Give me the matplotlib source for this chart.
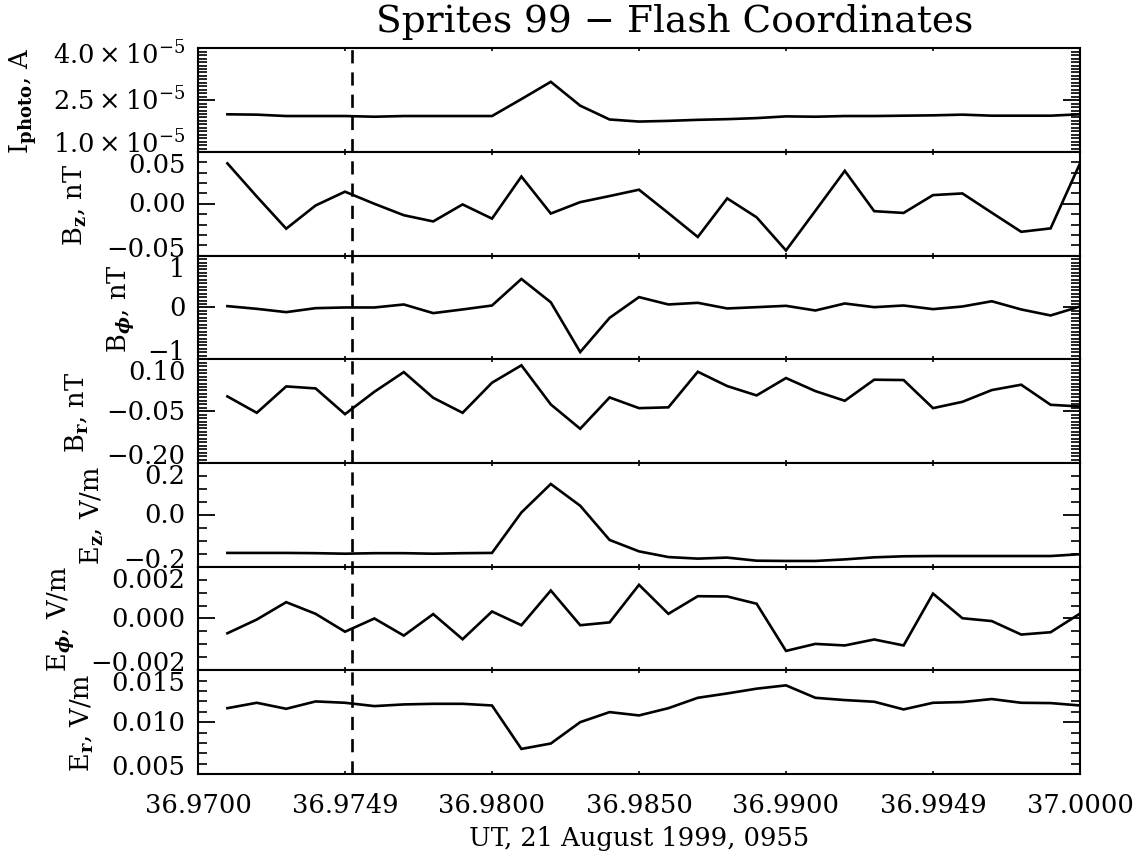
import numpy as np
import matplotlib
matplotlib.use("Agg")
import matplotlib.pyplot as plt
from matplotlib.ticker import FixedLocator, FixedFormatter, AutoMinorLocator
from matplotlib.transforms import blended_transform_factory, ScaledTranslation

plt.rcParams['font.family'] = ['DejaVu Serif']
plt.rcParams['mathtext.fontset'] = 'dejavuserif'
plt.rcParams['lines.scale_dashes'] = False

# ---------------- data ----------------
ut = [36.971, 36.972, 36.973, 36.974, 36.975, 36.976, 36.977, 36.978, 36.979, 36.980,
      36.981, 36.982, 36.983, 36.984, 36.985, 36.986, 36.987, 36.988, 36.989, 36.990,
      36.991, 36.992, 36.993, 36.994, 36.995, 36.996, 36.997, 36.998, 36.999, 37.000]

i_photo = [2.09e-5, 2.08e-5, 2.04e-5, 2.04e-5, 2.04e-5, 2.02e-5, 2.04e-5, 2.04e-5, 2.04e-5, 2.04e-5,
           2.53e-5, 3.03e-5, 2.34e-5, 1.94e-5, 1.88e-5, 1.90e-5, 1.93e-5, 1.95e-5, 1.98e-5, 2.03e-5,
           2.02e-5, 2.04e-5, 2.04e-5, 2.05e-5, 2.06e-5, 2.08e-5, 2.05e-5, 2.05e-5, 2.05e-5, 2.09e-5]

b_z = [0.039, 0.007, -0.024, -0.0016, 0.0117, 0.0, -0.011, -0.017, -0.0006, -0.0143,
       0.0263, -0.0094, 0.0016, 0.0075, 0.0136, -0.009, -0.032, 0.0052, -0.013, -0.045,
       -0.0067, 0.0318, -0.0071, -0.0088, 0.0084, 0.010, -0.0086, -0.027, -0.0237, 0.039]

b_phi = [0.026, -0.026, -0.09, -0.013, 0.0, 0.0, 0.058, -0.109, -0.038, 0.038,
         0.55, 0.10, -0.86, -0.20, 0.20, 0.058, 0.09, -0.019, 0.006, 0.032,
         -0.058, 0.077, 0.006, 0.038, -0.032, 0.019, 0.12, -0.038, -0.154, 0.019]

b_r = [-0.0074, -0.0548, 0.0216, 0.0158, -0.0587, 0.0061, 0.063, -0.0113, -0.0548, 0.0323,
       0.0826, -0.0306, -0.101, -0.0103, -0.0413, -0.039, 0.064, 0.0226, -0.0045, 0.0458,
       0.008, -0.02, 0.041, 0.04, -0.0413, -0.023, 0.011, 0.0265, -0.0316, -0.0365]

e_z = [-0.147, -0.147, -0.147, -0.148, -0.150, -0.148, -0.148, -0.150, -0.148, -0.147,
       0.009, 0.119, 0.035, -0.097, -0.141, -0.163, -0.169, -0.165, -0.177, -0.178,
       -0.178, -0.172, -0.164, -0.160, -0.159, -0.159, -0.159, -0.159, -0.159, -0.152]

e_phi = [-0.00057, -0.00004, 0.00063, 0.00018, -0.00051, 0.0, -0.00066, 0.00017, -0.0008, 0.00027,
         -0.00026, 0.00108, -0.00026, -0.00015, 0.0013, 0.00018, 0.00086, 0.00085, 0.00057, -0.00125,
         -0.00098, -0.00104, -0.00081, -0.00104, 0.00096, 0.00001, -0.0001, -0.00062, -0.00053, 0.00019]

e_r = [0.01135, 0.01187, 0.01129, 0.0120, 0.01187, 0.01155, 0.01171, 0.01177, 0.01177, 0.01161,
       0.00742, 0.00794, 0.0100, 0.01097, 0.01065, 0.01135, 0.01235, 0.01277, 0.01323, 0.01355,
       0.01235, 0.01213, 0.01197, 0.01123, 0.01187, 0.01194, 0.01223, 0.01187, 0.01184, 0.01161]

flash_time = 36.97525

x_ticks = [36.970, 36.975, 36.980, 36.985, 36.990, 36.995, 37.000]
x_tick_labels = ['36.9700', '36.9749', '36.9800', '36.9850', '36.9900', '36.9949', '37.0000']

series = [i_photo, b_z, b_phi, b_r, e_z, e_phi, e_r]
y_titles = [r'I$_{\mathbf{photo}}$, A', r'B$_{\mathbf{z}}$, nT', r'B$_{\boldsymbol{\phi}}$, nT',
            r'B$_{\mathbf{r}}$, nT', r'E$_{\mathbf{z}}$, V/m', r'E$_{\boldsymbol{\phi}}$, V/m',
            r'E$_{\mathbf{r}}$, V/m']
y_limits = [(1.0e-5, 4.0e-5), (-0.05, 0.05), (-1, 1), (-0.20, 0.10), (-0.2, 0.2),
            (-0.002, 0.002), (0.005, 0.015)]
y_ticks = [[1.0e-5, 2.5e-5, 4.0e-5], [-0.05, 0.0, 0.05], [-1, 0, 1], [-0.20, -0.05, 0.10],
           [-0.2, 0.0, 0.2], [-0.002, 0.0, 0.002], [0.005, 0.010, 0.015]]
y_tick_labels = [[r'$1.0\times10^{-5}$', r'$2.5\times10^{-5}$', r'$4.0\times10^{-5}$'],
                 ['\u22120.05', '0.00', '0.05'], ['\u22121', '0', '1'],
                 ['\u22120.20', '\u22120.05', '0.10'], ['\u22120.2', '0.0', '0.2'],
                 ['\u22120.002', '0.000', '0.002'], ['0.005', '0.010', '0.015']]
y_minor = [15, 5, 15, 15, 4, 4, 5]

# ---------------- layout ----------------
W, H = 1141, 854
fig = plt.figure(figsize=(W / 100, H / 100), dpi=100)
left, right = 198 / W, 1080 / W
top_px, bot_px = 49.3, 775.0
ph = (bot_px - top_px) / 7.0
label_x_px = [29, 83, 127, 85, 100, 67, 90]
fs = 18.5

axes = []
for k in range(7):
    y0 = 1 - (top_px + ph * (k + 1)) / H
    ax = fig.add_axes([left, y0, right - left, ph / H])
    axes.append(ax)
    ax.plot(ut, series[k], color='black', lw=1.9, solid_joinstyle='miter')
    ax.set_xlim(36.97, 37.0)
    ax.set_ylim(*y_limits[k])
    for s in ax.spines.values():
        s.set_linewidth(1.5)
    ax.xaxis.set_major_locator(FixedLocator(x_ticks))
    if k == 6:
        ax.xaxis.set_major_formatter(FixedFormatter(x_tick_labels))
    else:
        ax.xaxis.set_major_formatter(FixedFormatter([''] * len(x_ticks)))
    ax.tick_params(axis='x', which='both', direction='in', top=True, bottom=True,
                   length=2, width=1.2, labelsize=fs, pad=13)
    ax.yaxis.set_major_locator(FixedLocator(y_ticks[k]))
    ax.yaxis.set_major_formatter(FixedFormatter(y_tick_labels[k]))
    ax.yaxis.set_minor_locator(AutoMinorLocator(y_minor[k]))
    ax.tick_params(axis='y', which='major', direction='in', left=True, right=True,
                   length=12, width=1.3, labelsize=fs, pad=9)
    ax.tick_params(axis='y', which='minor', direction='in', left=True, right=True,
                   length=6.5, width=1.2)
    ticks = ax.yaxis.get_major_ticks()
    ticks[0].label1.set_verticalalignment('baseline')
    ticks[1].label1.set_verticalalignment('center')
    ticks[2].label1.set_verticalalignment('top')
    if k == 0:
        tl = ticks[2].label1
        tl.set_transform(tl.get_transform() + ScaledTranslation(0, 9 / 100, fig.dpi_scale_trans))
    tr = blended_transform_factory(fig.transFigure, ax.transAxes)
    ax.text(label_x_px[k] / W, 0.5, y_titles[k], transform=tr, rotation=90,
            rotation_mode='anchor', ha='center', va='baseline', fontsize=fs)

# flash time marker drawn through all panels from the bottom axes
axb = axes[-1]
axb.plot([flash_time, flash_time], [0, 7], color='black', lw=1.9,
         dashes=(9.5, 6.5), clip_on=False,
         transform=blended_transform_factory(axb.transData, axb.transAxes))

axb.set_xlabel('UT, 21 August 1999, 0955', fontsize=fs, labelpad=6)
fig.text(675 / W, 1 - 32 / H, 'Sprites 99 \u2212 Flash Coordinates', ha='center',
         va='baseline', fontsize=27)

fig.savefig('out.png', dpi=100)
